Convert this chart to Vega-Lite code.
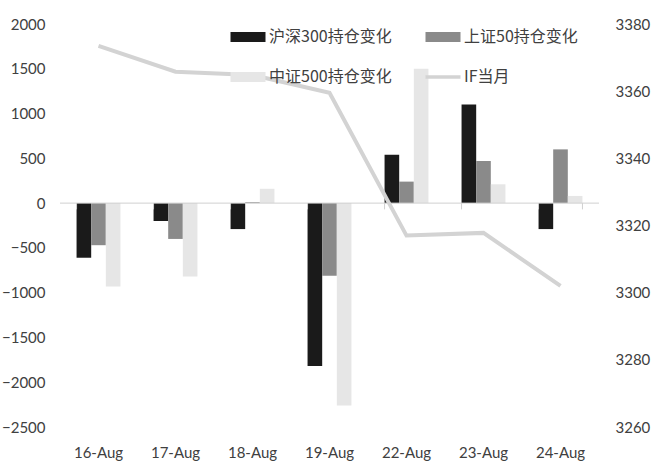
{
  "$schema": "https://vega.github.io/schema/vega-lite/v6.json",
  "width": 539,
  "height": 403,
  "autosize": "none",
  "padding": {"left": 60, "top": 24, "right": 62, "bottom": 49},
  "background": "white",
  "config": {
    "view": {"stroke": null},
    "font": "Lato",
    "axis": {"labelFont": "Lato", "labelFontSize": 15, "labelColor": "#404040", "grid": false, "ticks": false, "domain": false}
  },
  "datasets": {
    "bars": [
      {"date": "16-Aug", "series": "沪深300持仓变化", "value": -610},
      {"date": "16-Aug", "series": "上证50持仓变化", "value": -470},
      {"date": "16-Aug", "series": "中证500持仓变化", "value": -930},
      {"date": "17-Aug", "series": "沪深300持仓变化", "value": -200},
      {"date": "17-Aug", "series": "上证50持仓变化", "value": -400},
      {"date": "17-Aug", "series": "中证500持仓变化", "value": -820},
      {"date": "18-Aug", "series": "沪深300持仓变化", "value": -290},
      {"date": "18-Aug", "series": "上证50持仓变化", "value": 10},
      {"date": "18-Aug", "series": "中证500持仓变化", "value": 160},
      {"date": "19-Aug", "series": "沪深300持仓变化", "value": -1820},
      {"date": "19-Aug", "series": "上证50持仓变化", "value": -810},
      {"date": "19-Aug", "series": "中证500持仓变化", "value": -2260},
      {"date": "22-Aug", "series": "沪深300持仓变化", "value": 540},
      {"date": "22-Aug", "series": "上证50持仓变化", "value": 240},
      {"date": "22-Aug", "series": "中证500持仓变化", "value": 1500},
      {"date": "23-Aug", "series": "沪深300持仓变化", "value": 1100},
      {"date": "23-Aug", "series": "上证50持仓变化", "value": 470},
      {"date": "23-Aug", "series": "中证500持仓变化", "value": 210},
      {"date": "24-Aug", "series": "沪深300持仓变化", "value": -290},
      {"date": "24-Aug", "series": "上证50持仓变化", "value": 600},
      {"date": "24-Aug", "series": "中证500持仓变化", "value": 80}
    ],
    "line": [
      {"date": "16-Aug", "IF": 3373.5},
      {"date": "17-Aug", "IF": 3365.8},
      {"date": "18-Aug", "IF": 3364.8},
      {"date": "19-Aug", "IF": 3359.5},
      {"date": "22-Aug", "IF": 3317},
      {"date": "23-Aug", "IF": 3317.8},
      {"date": "24-Aug", "IF": 3302}
    ]
  },
  "layer": [
    {
      "layer": [
        {
          "data": {"name": "bars"},
          "mark": {"type": "bar"},
          "encoding": {
            "x": {"field": "date", "type": "nominal", "sort": null,
                  "scale": {"paddingInner": 0.43, "paddingOuter": 0.215},
                  "axis": {"title": null, "labelAngle": 0, "labelPadding": 18}},
            "xOffset": {"field": "series", "type": "nominal", "sort": ["沪深300持仓变化", "上证50持仓变化", "中证500持仓变化"], "scale": {"paddingInner": 0, "paddingOuter": 0}},
            "y": {"field": "value", "type": "quantitative",
                  "scale": {"domain": [-2500, 2000], "nice": false},
                  "axis": {"title": null, "format": "d", "values": [-2500, -2000, -1500, -1000, -500, 0, 500, 1000, 1500, 2000], "labelPadding": 15}},
            "color": {"field": "series", "type": "nominal",
                      "scale": {"domain": ["沪深300持仓变化", "上证50持仓变化", "中证500持仓变化", "IF当月"], "range": ["#1a1a1a", "#8a8a8a", "#e6e6e6", "#d3d3d3"]},
                      "legend": {"orient": "none", "legendX": 180, "legendY": 5, "columns": 2, "direction": "horizontal", "columnPadding": 13, "rowPadding": 0,
                                 "values": ["沪深300持仓变化", "上证50持仓变化", "中证500持仓变化", "IF当月"],
                                 "title": null, "symbolType": "stroke", "symbolSize": 1225, "symbolStrokeWidth": 10,
                                 "labelFont": "Noto Sans CJK SC", "labelFontSize": 16, "labelColor": "#404040", "labelOffset": 13, "labelLimit": 300,
                                 "encode": {"symbols": {"update": {"size": {"value": 1225}, "strokeWidth": {"signal": "datum.value === 'IF当月' ? 3.5 : 10"}, "stroke": {"scale": "color", "field": "value"}}}}}}
          }
        },
        {
          "data": {"values": [{}]},
          "mark": {"type": "rule", "color": "#d0d0d0", "strokeWidth": 1},
          "encoding": {"y": {"datum": 0}}
        },
        {
          "data": {"name": "line"},
          "mark": {"type": "rule", "color": "#d0d0d0", "strokeWidth": 1},
          "encoding": {
            "x": {"field": "date", "type": "nominal", "sort": null, "bandPosition": 0},
            "y": {"datum": 0},
            "y2": {"datum": -70}
          }
        },
        {
          "data": {"name": "line"},
          "transform": [{"filter": "datum.date === '24-Aug'"}],
          "mark": {"type": "rule", "color": "#d0d0d0", "strokeWidth": 1},
          "encoding": {
            "x": {"field": "date", "type": "nominal", "sort": null, "bandPosition": 1},
            "y": {"datum": 0},
            "y2": {"datum": -70}
          }
        }
      ]
    },
    {
      "data": {"name": "line"},
      "mark": {"type": "line", "strokeWidth": 4},
      "encoding": {
        "x": {"field": "date", "type": "nominal", "sort": null},
        "y": {"field": "IF", "type": "quantitative",
              "scale": {"domain": [3260, 3380], "nice": false, "zero": false},
              "axis": {"orient": "right", "title": null, "format": "d", "values": [3260, 3280, 3300, 3320, 3340, 3360, 3380], "labelPadding": 16}},
        "color": {"datum": "IF当月"}
      }
    }
  ],
  "resolve": {"scale": {"y": "independent"}}
}
